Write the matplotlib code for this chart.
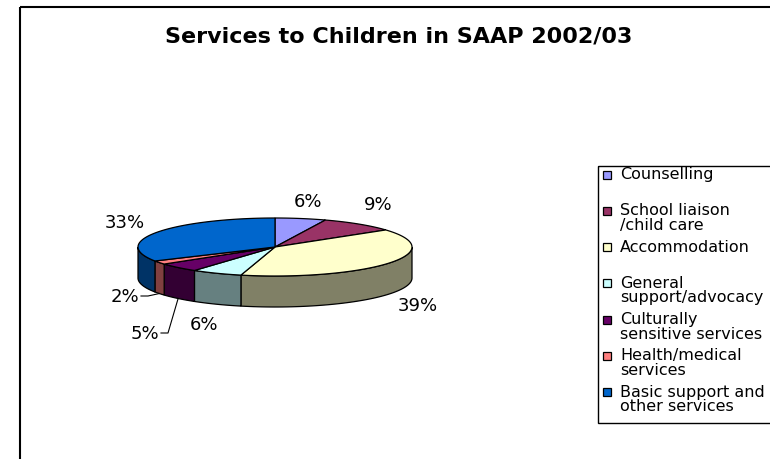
import numpy as np
import matplotlib.pyplot as plt
from matplotlib.patches import Polygon, Rectangle

plt.rcParams['font.family'] = ['DejaVu Sans']

title = "Services to Children in SAAP 2002/03"
categories = ["Counselling", "School liaison\n/child care", "Accommodation",
              "General\nsupport/advocacy", "Culturally\nsensitive services",
              "Health/medical\nservices", "Basic support and\nother services"]
shares = [6, 9, 39, 6, 5, 2, 33]
top_colors = ["#9999FF", "#993366", "#FFFFCC", "#CCFFFF", "#660066", "#FF8080", "#0066CC"]
side_colors = ["#4C4C80", "#4C1933", "#808066", "#668080", "#330033", "#804040", "#003366"]

# where the percentage labels sit (pixels), and which ones get a leader line
pct_xy = [(308, 202), (378, 205), (418, 306), (204, 325), (145, 334), (125, 297), (125, 223)]
leader = [False, False, False, False, True, True, False]

# 3d pie geometry in pixels
cx, cy, rx, ry, depth = 275, 248, 137, 29, 31

fig = plt.figure(figsize=(7.7, 4.6), dpi=100)
ax = fig.add_axes([0, 0, 1, 1])
ax.set_xlim(0, 770)
ax.set_ylim(460, 0)
ax.axis('off')


def rim(theta, dy=0.0):
    t = np.radians(theta)
    return np.column_stack([cx + rx * np.cos(t), cy - ry * np.sin(t) + dy])


# slice edges, starting at 12 o'clock and going clockwise
edges = 90 - 360 * np.concatenate([[0], np.cumsum(shares)]) / sum(shares)

# side walls first (only the front half is visible)
for i in range(len(shares)):
    a0, a1 = edges[i], edges[i + 1]
    hi, lo = min(a0, 0), max(a1, -180)
    if lo >= hi:
        continue
    arc = np.linspace(hi, lo, 60)
    pts = np.vstack([rim(arc), rim(arc[::-1], depth)])
    ax.add_patch(Polygon(pts, closed=True, facecolor=side_colors[i],
                         edgecolor='black', linewidth=0.9))

# top faces
for i in range(len(shares)):
    arc = np.linspace(edges[i], edges[i + 1], 80)
    pts = np.vstack([[cx, cy], rim(arc)])
    ax.add_patch(Polygon(pts, closed=True, facecolor=top_colors[i],
                         edgecolor='black', linewidth=0.9))

# percentage labels
for i, v in enumerate(shares):
    x, y = pct_xy[i]
    ax.text(x, y, f"{v}%", fontsize=13, ha='center', va='center')
    if leader[i]:
        mid = (edges[i] + edges[i + 1]) / 2
        px, py = rim(np.array([mid]), depth)[0]
        half = 14 if v < 10 else 20
        ax.plot([x + half + 2, x + half + 9, px], [y, y, py],
                color='black', linewidth=0.8)

ax.text(399, 36, title, fontsize=16, fontweight='bold', ha='center', va='center')

# chart frame
ax.add_patch(Rectangle((20, 8), 800, 500, fill=False, edgecolor='black',
                       linewidth=1.5, clip_on=False))

# legend box
ax.add_patch(Rectangle((598, 167), 200, 257, fill=False, edgecolor='black',
                       linewidth=1.0, clip_on=False))
for i, name in enumerate(categories):
    y = 175.5 + i * 36.3
    ax.add_patch(Rectangle((603, y - 4), 8, 8, facecolor=top_colors[i],
                           edgecolor='black', linewidth=0.9))
    ax.text(620, y - 8.5, name, fontsize=11.5, ha='left', va='top', linespacing=0.95)

fig.savefig("out.png", dpi=100)
